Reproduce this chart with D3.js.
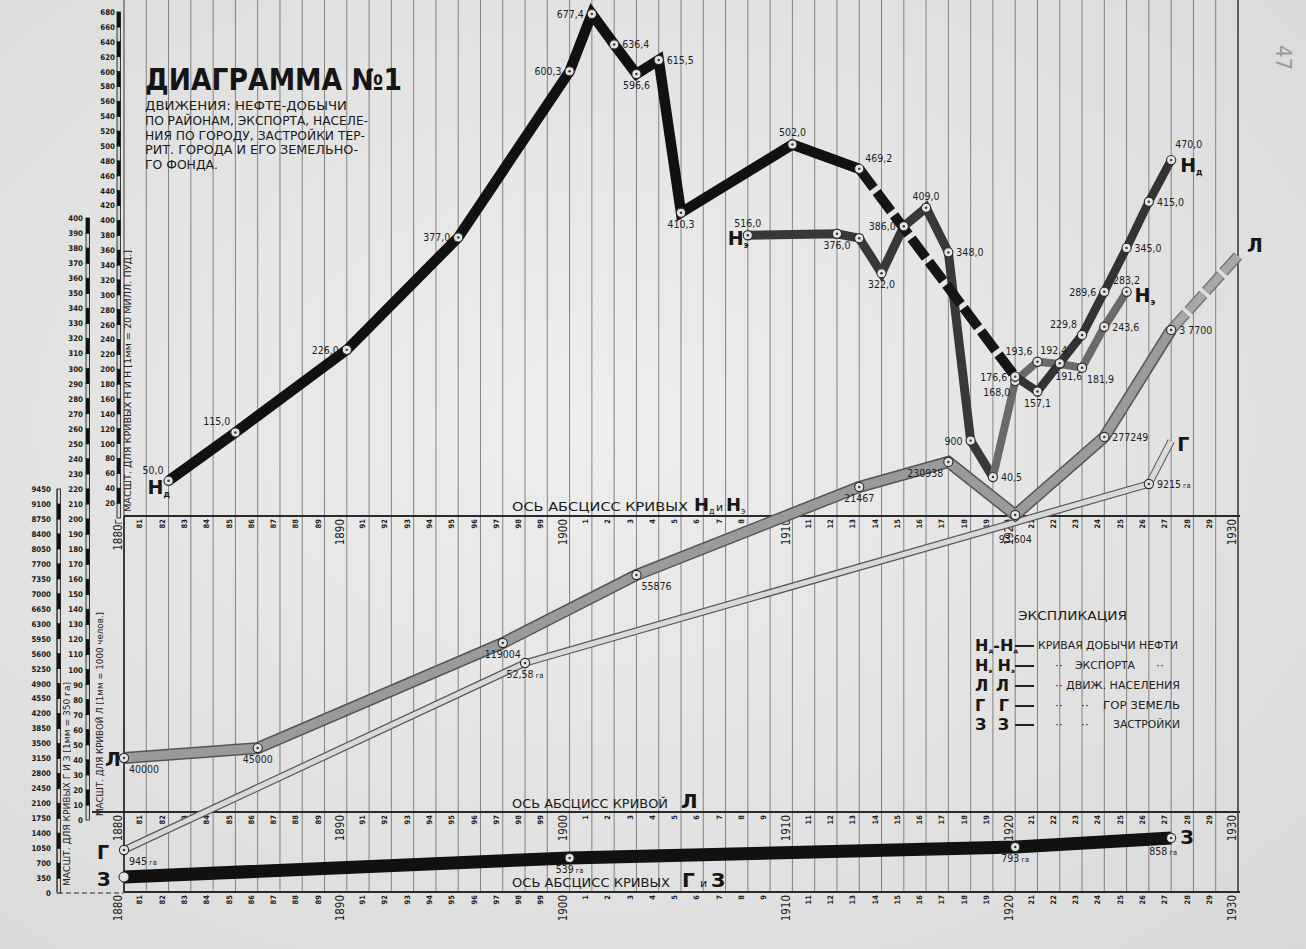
<!DOCTYPE html>
<html><head><meta charset="utf-8">
<script src="https://cdn.jsdelivr.net/npm/d3@7"></script>
<style>body{margin:0;background:#e0e0e0;}svg{display:block}</style>
</head><body>
<svg id="c" width="1306" height="949"></svg>
<script>
// ---------------- DATA ----------------
const years = d3.range(1880, 1931);
const yearTickLabelsTop = ["1880г","81","82","83","84","85","86","87","88","89","1890","91","92","93","94","95","96","97","98","99","1900","1","2","3","4","5","6","7","8","9","1910","11","12","13","14","15","16","17","18","19","1920","21","22","23","24","25","26","27","28","29","1930"];
const yearTickLabels = ["1880","81","82","83","84","85","86","87","88","89","1890","91","92","93","94","95","96","97","98","99","1900","1","2","3","4","5","6","7","8","9","1910","11","12","13","14","15","16","17","18","19","1920","21","22","23","24","25","26","27","28","29","1930"];

const nScaleTicks = d3.range(20, 681, 20);      // Н scale (mill. pood)
const lScaleTicks = d3.range(0, 401, 10);       // Л scale (thousand people)
const gzScaleTicks = d3.range(0, 9451, 350);    // Г и З scale (ha)

// Н_д – oil production
const nDYears  = [1882,1885,1890,1895,1900,1901,1902,1903,1904,1905,1910,1913];
const nDValues = [50.0,115.0,226.0,377.0,600.3,677.4,636.4,596.6,615.5,410.3,502.0,469.2];
const nDLabels = ["50,0","115,0","226,0","377,0","600,3","677,4","636,4","596,6","615,5","410,3","502,0","469,2"];
const nDGapYears  = [1913,1920];
const nDGapValues = [469.2,190];
const nDLateYears  = [1920,1921,1922,1923,1924,1925,1926,1927];
const nDLateValues = [190,170,208,246,304,363,425,481];
const nDLateLabels = ["176,6","157,1","192,4","229,8","289,6","345,0","415,0","470,0"];

// Н_э – export
const nEYears  = [1908,1912,1913,1914,1915,1916,1917,1918,1919,1920,1921,1922,1923,1924,1925];
const nEValues = [380,382,376,329,392,417,357,104,55,184,210,207,202,257,304];
const nELabels = ["516,0","376,0","","322,0","386,0","409,0","348,0","900","40,5","168,0","193,6","191,6","181,9","243,6","283,2"];

// Л – population (thousands)
const lYears  = [1880,1886,1897,1903,1913,1917,1920,1924,1927];
const lValues = [41.2,47.8,117.6,162.8,221.3,237.9,202.7,254.5,325.6];
const lLabels = ["40000","45000","119004","55876","21467","230938","93 604","277249","3 7700"];
const lProjYears  = [1927,1930];
const lProjValues = [325.6,374.8];

// Г – city lands (ha)
const gYears  = [1880,1898,1926];
const gValues = [1006,5380,9567];
const gLabels = ["945","52,58","9215"];
const gProjYears  = [1926,1927];
const gProjValues = [9567,10573];

// З – built-up area (ha)
const zYears  = [1880,1900,1920,1927];
const zValues = [374,819,1076,1287];
const zLabels = ["","539","793","858"];

// label placement codes (separate from data)
const nDPos = ["al","al","l","l","l","l","r","b","r","b","a","ar"];
const nDLatePos = ["l","b","a2","al","l","r","r","ar2"];
const nEPos = ["a","b","","b","l","a","r","l","r","bl","al","b3","br","r","a"];
const lPos = ["br","b","b","br","b","bl","b2","r","r"];
const gPos = ["br","b","r"];
const zPos = ["","b","b","bl2"];

const titleLines = ["ДВИЖЕНИЯ: НЕФТЕ-ДОБЫЧИ","ПО РАЙОНАМ, ЭКСПОРТА, НАСЕЛЕ-","НИЯ ПО ГОРОДУ, ЗАСТРОЙКИ ТЕР-","РИТ. ГОРОДА И ЕГО ЗЕМЕЛЬНО-","ГО ФОНДА."];

// ---------------- DRAW ----------------
const W = 1306, H = 949;
const F = "'DejaVu Sans Condensed','Liberation Sans Narrow','DejaVu Sans',sans-serif";
const svg = d3.select('#c');
const defs = svg.append('defs');
const rg = defs.append('radialGradient').attr('id','bg').attr('cx','45%').attr('cy','45%').attr('r','80%');
rg.append('stop').attr('offset','0%').attr('stop-color','#eeeeee');
rg.append('stop').attr('offset','100%').attr('stop-color','#d8d8d8');
svg.append('rect').attr('width',W).attr('height',H).attr('fill','url(#bg)');

const x  = d3.scaleLinear().domain([1880,1930]).range([124,1238]);
const yN = d3.scaleLinear().domain([0,680]).range([518,12]);
const yL = d3.scaleLinear().domain([0,400]).range([820,218]);
const yG = d3.scaleLinear().domain([0,9450]).range([893,489]);
const AX_N = 516, AX_L = 812, AX_G = 892;

// vertical year grid
svg.append('g').selectAll('line').data(years).join('line')
  .attr('x1',d=>x(d)).attr('x2',d=>x(d)).attr('y1',0).attr('y2',AX_G)
  .attr('stroke',d=> d===1930 ? '#333' : '#707070')
  .attr('stroke-width',d=> d===1930 || d===1880 ? 1.5 : 0.85);

// horizontal axes
function hline(x1,x2,y,w,dash){
  svg.append('line').attr('x1',x1).attr('x2',x2).attr('y1',y).attr('y2',y)
    .attr('stroke','#2a2a2a').attr('stroke-width',w).attr('stroke-dasharray',dash||null);
}
hline(124,1240,AX_N,1.8);
hline(92,1240,AX_L,1.8);
hline(124,1240,AX_G,1.8);
hline(58,124,AX_G+1,1.2,"5,3");

// year axes
function yearAxis(y, labels){
  const ax = d3.axisBottom(x).tickValues(years).tickSize(0).tickFormat((d,i)=>labels[i]);
  const g = svg.append('g').attr('transform',`translate(0,${y})`).call(ax);
  g.select('.domain').remove();
  g.attr('font-family',F);
  g.selectAll('text')
    .attr('transform','rotate(-90)')
    .attr('text-anchor','end')
    .attr('x',-3).attr('y',-7).attr('dy','0.35em')
    .attr('fill','#1e1e1e')
    .attr('font-size',(d)=> d%10===0 ? 11.5 : 7.5)
    .attr('font-weight',(d)=> d%10===0 ? 400 : 600);
}
yearAxis(AX_N, yearTickLabelsTop);
yearAxis(AX_L, yearTickLabels);
yearAxis(AX_G, yearTickLabels);

// left scales with rulers
function leftScale(scale, ticks, labelX, rulerX, step, lo, hi){
  const ax = d3.axisLeft(scale).tickValues(ticks).tickSize(0).tickFormat(d=>d);
  const g = svg.append('g').attr('transform',`translate(${labelX},0)`).call(ax);
  g.select('.domain').remove();
  g.attr('font-family',F);
  g.selectAll('text').attr('x',0).attr('font-size',7.8).attr('font-weight',700).attr('fill','#1a1a1a');
  const segs = d3.range(lo, hi, step);
  svg.append('g').selectAll('rect').data(segs).join('rect')
    .attr('x',rulerX).attr('width',3.5)
    .attr('y',d=>scale(d+step)).attr('height',d=>scale(d)-scale(d+step))
    .attr('fill',(d,i)=> i%2 ? '#111' : '#d4d4d4')
    .attr('stroke','#111').attr('stroke-width',0.8);
}
leftScale(yN, nScaleTicks, 115, 117, 20, 0, 680);
leftScale(yL, lScaleTicks, 83, 86, 10, 0, 400);
leftScale(yG, gzScaleTicks, 51, 57, 350, 0, 9450);

// rotated scale captions
function vcap(xp, ybottom, txt, len, fs){
  svg.append('text').attr('transform',`translate(${xp},${ybottom}) rotate(-90)`)
    .attr('font-family',F).attr('font-size',fs).attr('fill','#222')
    .attr('textLength',len).attr('lengthAdjust','spacingAndGlyphs')
    .attr('dy','0.35em').text(txt);
}
vcap(128, 512, "МАСШТ. ДЛЯ КРИВЫХ Н И Н [1мм = 20 МИЛЛ. ПУД.]", 262, 9.5);
vcap(100, 816, "МАСШТ. ДЛЯ КРИВОЙ Л [1мм = 1000 челов.]", 204, 9);
vcap(67, 886, "МАСШТ. ДЛЯ КРИВЫХ Г И З [1мм = 350 га]", 204, 9);
svg.append('line').attr('x1',124).attr('x2',124).attr('y1',AX_N).attr('y2',AX_G).attr('stroke','#222').attr('stroke-width',1.5);
svg.append('line').attr('x1',57).attr('x2',57).attr('y1',yG(9450)).attr('y2',AX_G).attr('stroke','#222').attr('stroke-width',0.8);

// line helper
function pathOf(xs, vs, ys){ return d3.line().x(d=>x(d[0])).y(d=>ys(d[1]))(d3.zip(xs,vs)); }
function drawPath(xs, vs, ys, stroke, width, dash){
  svg.append('path').attr('d',pathOf(xs,vs,ys)).attr('fill','none')
    .attr('stroke',stroke).attr('stroke-width',width)
    .attr('stroke-linejoin','miter').attr('stroke-miterlimit',4)
    .attr('stroke-dasharray',dash||null);
}
function markers(xs, vs, ys){
  const g = svg.append('g');
  const pts = d3.zip(xs,vs);
  g.selectAll('circle.o').data(pts).join('circle').attr('class','o')
    .attr('cx',d=>x(d[0])).attr('cy',d=>ys(d[1])).attr('r',4.6)
    .attr('fill','#e2e2e2').attr('stroke','#2a2a2a').attr('stroke-width',1.1);
  g.selectAll('circle.i').data(pts).join('circle').attr('class','i')
    .attr('cx',d=>x(d[0])).attr('cy',d=>ys(d[1])).attr('r',1.2).attr('fill','#333');
}
const OFF = {l:[-8,4,'end'], r:[8,4,'start'], a:[0,-8,'middle'], a2:[-6,-9,'middle'], b:[0,15,'middle'],
  b3:[9,16,'middle'], al:[-5,-7,'end'], ar:[6,-7,'start'], ar2:[4,-12,'start'], bl:[-5,15,'end'],
  bl2:[6,17,'end'], br:[5,15,'start'], b2:[0,28,'middle']};
function labels(xs, vs, ys, texts, pos, unit){
  xs.forEach((yr,i)=>{
    const p = pos[i]; if(!p || !texts[i]) return;
    const o = OFF[p];
    const t = svg.append('text').attr('x',x(yr)+o[0]).attr('y',ys(vs[i])+o[1])
      .attr('text-anchor',o[2]).attr('font-family',F).attr('font-size',10.5)
      .attr('fill','#1e1e1e').text(texts[i]);
    if(unit) t.append('tspan').attr('font-size',7.5).text(' '+unit);
  });
}
function big(xp, yp, main, sub, fs){
  const t = svg.append('text').attr('x',xp).attr('y',yp).attr('font-family',"'DejaVu Sans',sans-serif")
    .attr('font-weight',700).attr('font-size',fs||19).attr('fill','#161616').text(main);
  if(sub) t.append('tspan').attr('font-size',8).attr('dy',3).text(sub);
}

// Г
drawPath(gYears, gValues, yG, '#5a5a5a', 7.5);
drawPath(gYears, gValues, yG, '#d9d9d9', 5);
drawPath(gProjYears, gProjValues, yG, '#5a5a5a', 7.5);
drawPath(gProjYears, gProjValues, yG, '#dadada', 5.5);
markers(gYears, gValues, yG);
labels(gYears, gValues, yG, gLabels, gPos, 'га');

// Л
drawPath(lYears, lValues, yL, '#555', 12);
drawPath(lYears, lValues, yL, '#9a9a9a', 9);
drawPath(lProjYears, lProjValues, yL, '#777', 11, "22,4");
drawPath(lProjYears, lProjValues, yL, '#a8a8a8', 8, "22,4");
markers(lYears, lValues, yL);
labels(lYears, lValues, yL, lLabels, lPos);

// З
drawPath(zYears, zValues, yG, '#111', 13);
markers(zYears.slice(1), zValues.slice(1), yG);
svg.append('circle').attr('cx',x(zYears[0])).attr('cy',yG(zValues[0])).attr('r',5).attr('fill','#e2e2e2').attr('stroke','#222');
labels(zYears, zValues, yG, zLabels, zPos, 'га');

// Н_э
drawPath(nEYears.slice(0,9), nEValues.slice(0,9), yN, '#383838', 9);
drawPath(nEYears.slice(8), nEValues.slice(8), yN, '#6a6a6a', 8);
// Н_д
drawPath(nDGapYears, nDGapValues, yN, '#151515', 10, "24,5");
drawPath(nDLateYears, nDLateValues, yN, '#333', 8.5);
drawPath(nDYears, nDValues, yN, '#111', 10.5);
markers(nEYears, nEValues, yN);
markers(nDLateYears, nDLateValues, yN);
markers(nDYears, nDValues, yN);
labels(nDYears, nDValues, yN, nDLabels, nDPos);
labels(nDLateYears, nDLateValues, yN, nDLateLabels, nDLatePos);
labels(nEYears, nEValues, yN, nELabels, nEPos);

// curve letters
big(x(nDYears[0])-21, yN(nDValues[0])+13, 'Н', 'д');
big(x(nEYears[0])-20, yN(nEValues[0])+10, 'Н', 'э');
big(x(1927)+9, yN(nDLateValues[7])+12, 'Н', 'д');
big(x(1925)+8, yN(nEValues[14])+10, 'Н', 'э');
big(x(lYears[0])-19, yL(lValues[0])+8, 'Л');
big(x(1930)+9, yL(lProjValues[1])-4, 'Л');
big(x(gYears[0])-27, yG(gValues[0])+9, 'Г');
big(x(1927)+6, yG(gProjValues[1])+10, 'Г');
big(x(zYears[0])-27, yG(zValues[0])+9, 'З');
big(x(1927)+9, yG(zValues[3])+6, 'З');

// axis titles
function axisTitle(xp, yp, lead, len, parts){
  svg.append('text').attr('x',xp).attr('y',yp).attr('font-family',F).attr('font-size',11.5)
    .attr('fill','#1a1a1a').attr('textLength',len).attr('lengthAdjust','spacingAndGlyphs').text(lead);
  parts.forEach(p=>{
    const t = svg.append('text').attr('x',p[1]).attr('y',yp).attr('font-family',"'DejaVu Sans',sans-serif")
      .attr('font-size',p[2]).attr('font-weight',p[3]).attr('fill','#161616').text(p[0]);
    if(p[4]) t.append('tspan').attr('font-size',8).attr('font-weight',400).attr('dy',3).text(p[4]);
  });
}
axisTitle(512, 511, "ОСЬ АБСЦИСС КРИВЫХ", 176, [["Н",694,18,700,"д"],["и",716,11,400],["Н",726,18,700,"э"]]);
axisTitle(512, 808, "ОСЬ АБСЦИСС КРИВОЙ", 156, [["Л",681,20,700]]);
axisTitle(512, 887, "ОСЬ АБСЦИСС КРИВЫХ", 158, [["Г",682,20,700],["и",700,11,400],["З",711,20,700]]);

// title
svg.append('text').attr('x',145).attr('y',90).attr('font-family',"'DejaVu Sans',sans-serif")
  .attr('font-size',30).attr('font-weight',700).attr('fill','#151515')
  .attr('textLength',257).attr('lengthAdjust','spacingAndGlyphs').text('ДИАГРАММА №1');
const tlLen = [202,223,220,213,73];
titleLines.forEach((s,i)=>{
  svg.append('text').attr('x',145).attr('y',110+i*14.8).attr('font-family',F)
    .attr('font-size',11.5).attr('fill','#1a1a1a')
    .attr('textLength',tlLen[i]).attr('lengthAdjust','spacingAndGlyphs').text(s);
});

// legend (ЭКСПЛИКАЦИЯ)
svg.append('text').attr('x',1018).attr('y',620).attr('font-family',F).attr('font-size',12)
  .attr('textLength',109).attr('lengthAdjust','spacingAndGlyphs').attr('fill','#1a1a1a').text('ЭКСПЛИКАЦИЯ');
const legendSym = [["Н","д","-Н","д"],["Н","э"," Н","э"],["Л","","Л",""],["Г","","Г",""],["З","","З",""]];
const legendRows = [645,665,685,705,724];
const legendText = [
  [["КРИВАЯ  ДОБЫЧИ  НЕФТИ",1038,140]],
  [["··",1055,8],["ЭКСПОРТА",1075,60],["··",1156,8]],
  [["··",1055,8],["ДВИЖ.  НАСЕЛЕНИЯ",1066,114]],
  [["··",1055,8],["··",1081,8],["ГОР  ЗЕМЕЛЬ",1103,77]],
  [["··",1055,8],["··",1081,8],["ЗАСТРОЙКИ",1113,67]]];
legendRows.forEach((ry,i)=>{
  const s = legendSym[i];
  const t = svg.append('text').attr('x',975).attr('y',ry+6).attr('font-family',"'DejaVu Sans',sans-serif")
    .attr('font-weight',700).attr('font-size',16).attr('fill','#161616');
  if(s[1]){
    t.append('tspan').text(s[0]); t.append('tspan').attr('font-size',6).attr('dy',2).text(s[1]);
    t.append('tspan').attr('dy',-2).text(s[2]); t.append('tspan').attr('font-size',6).attr('dy',2).text(s[3]);
  } else {
    t.attr('textLength',34).text(s[0]+' '+s[2]);
  }
  svg.append('line').attr('x1',1015).attr('x2',1034).attr('y1',ry+1).attr('y2',ry+1).attr('stroke','#222').attr('stroke-width',2);
  legendText[i].forEach(p=>{
    svg.append('text').attr('x',p[1]).attr('y',ry+4).attr('font-family',F).attr('font-size',10)
      .attr('fill','#1e1e1e').attr('textLength',p[2]).attr('lengthAdjust','spacingAndGlyphs').text(p[0]);
  });
});

// archive page number
svg.append('text').attr('transform','translate(1276,45) rotate(90)').attr('font-family',F)
  .attr('font-size',22).attr('fill','#9a9a9a').text('47');
</script>
</body></html>
